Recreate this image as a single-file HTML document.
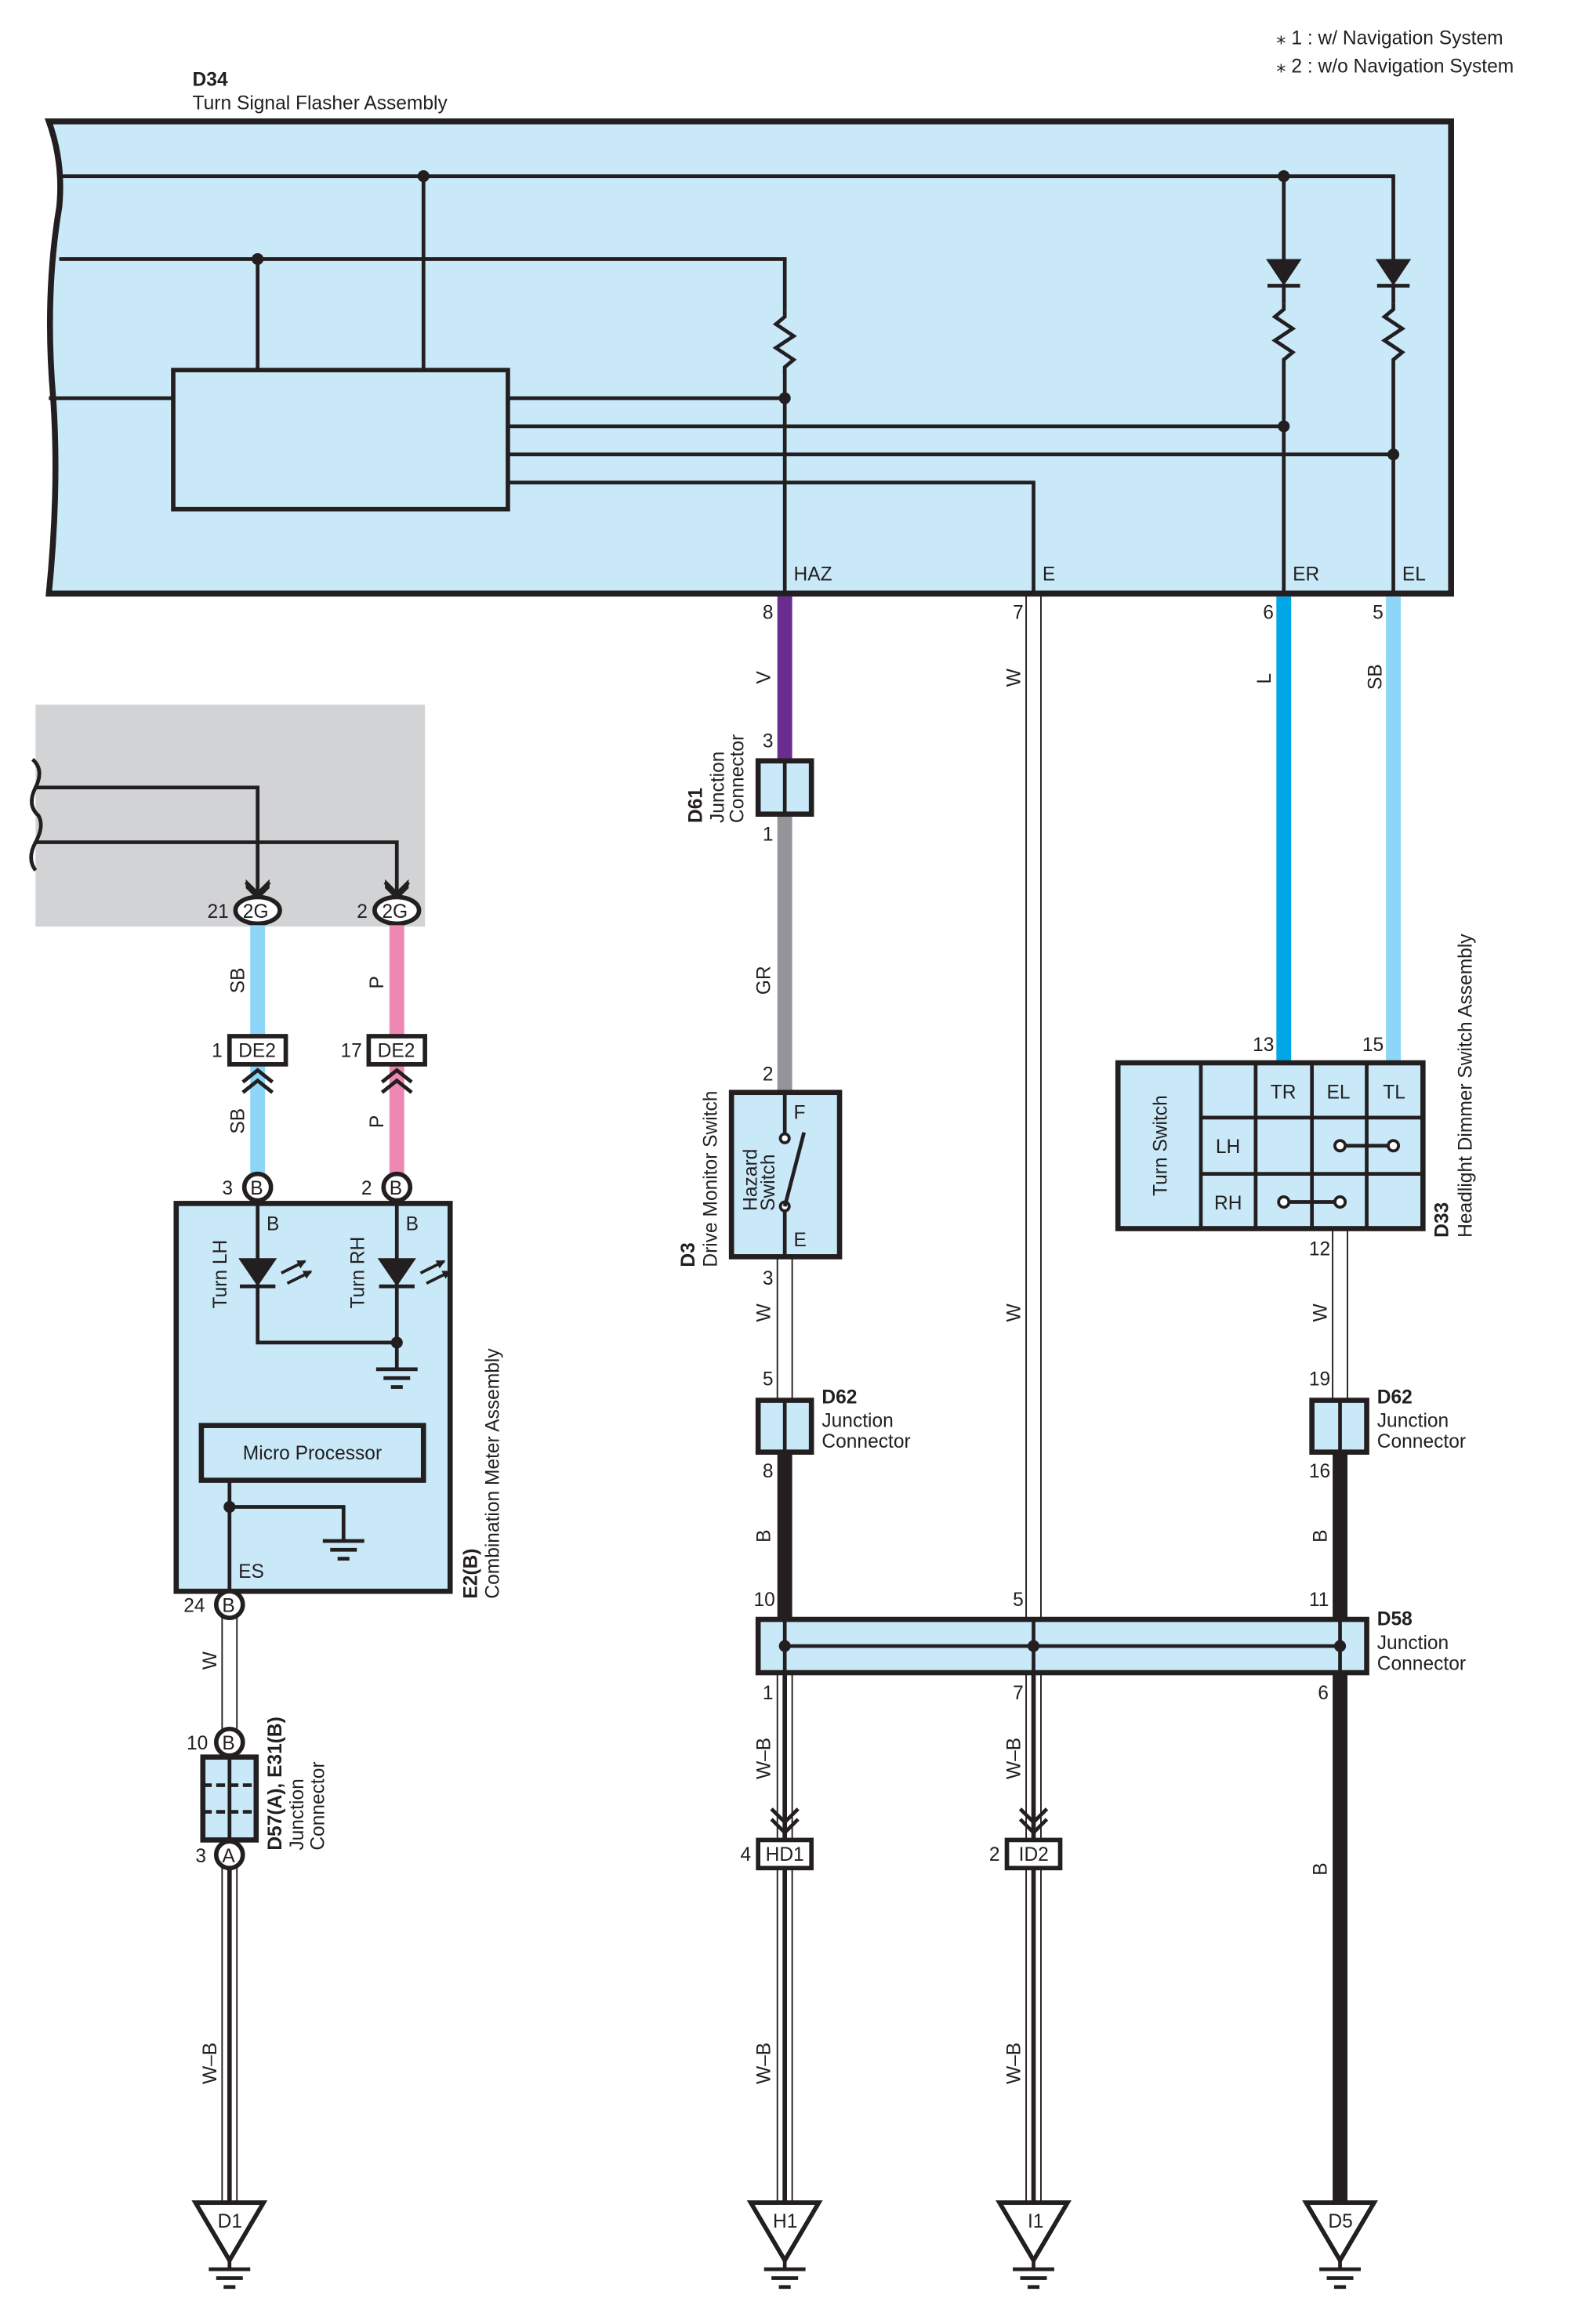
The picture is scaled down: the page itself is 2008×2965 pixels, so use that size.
<!DOCTYPE html>
<html><head><meta charset="utf-8"><style>
html,body{margin:0;padding:0;background:#fff}
svg{display:block}
text{font-family:"Liberation Sans Narrow","Liberation Sans",sans-serif;fill:#231f20}
.s{font-size:13px}.b{font-weight:bold}
</style></head><body>
<svg width="2008" height="2965" viewBox="0 0 1063 1570" preserveAspectRatio="none" xmlns="http://www.w3.org/2000/svg">
<defs>
<g id="gnd"><line x1="-14" y1="0" x2="14" y2="0" stroke="#231f20" stroke-width="2.5"/><line x1="-9" y1="6" x2="9" y2="6" stroke="#231f20" stroke-width="2.5"/><line x1="-4" y1="12" x2="4" y2="12" stroke="#231f20" stroke-width="2.5"/></g>
<g id="res"><polyline points="0,0 0,4 -6,9 6,17 -6,25 6,33 0,38 0,42" fill="none" stroke="#231f20" stroke-width="2.5"/></g>
<marker id="ah" markerWidth="6" markerHeight="6" refX="5" refY="3" orient="auto" markerUnits="userSpaceOnUse"><polygon points="0,0 6,3 0,6" fill="#231f20"/></marker>
</defs>
<text x="862" y="30" class="s">⁎ 1 : w/ Navigation System</text>
<text x="862" y="49" class="s">⁎ 2 : w/o Navigation System</text>
<text x="130" y="58" class="s b">D34</text>
<text x="130" y="74" class="s">Turn Signal Flasher Assembly</text>
<path d="M33,82 L980,82 L980,401 L33,401 Q40,330 36,270 Q30,200 40,140 Q43,110 33,82 Z" fill="#c9e9f9" stroke="#231f20" stroke-width="4"/>
<g stroke="#231f20" stroke-width="2.5" fill="none">
<polyline points="40,119 941,119 941,175"/>
<line x1="867" y1="119" x2="867" y2="175"/>
<line x1="286" y1="119" x2="286" y2="250"/>
<polyline points="40,175 530,175 530,210"/>
<line x1="174" y1="175" x2="174" y2="250"/>
<line x1="33" y1="269" x2="117" y2="269"/>
<line x1="343" y1="269" x2="530" y2="269"/>
<line x1="530" y1="250" x2="530" y2="401"/>
<line x1="343" y1="288" x2="867" y2="288"/>
<line x1="343" y1="307" x2="941" y2="307"/>
<polyline points="343,326 698,326 698,401"/>
<line x1="867" y1="193" x2="867" y2="205"/><line x1="867" y1="247" x2="867" y2="401"/>
<line x1="941" y1="193" x2="941" y2="205"/><line x1="941" y1="247" x2="941" y2="401"/>
</g>
<rect x="117" y="250" width="226" height="94" fill="none" stroke="#231f20" stroke-width="3"/>
<use href="#res" x="530" y="210"/><use href="#res" x="867" y="205"/><use href="#res" x="941" y="205"/>
<polygon points="855,175 879,175 867,193" fill="#231f20"/><line x1="856" y1="193" x2="878" y2="193" stroke="#231f20" stroke-width="2.5"/>
<polygon points="929,175 953,175 941,193" fill="#231f20"/><line x1="930" y1="193" x2="952" y2="193" stroke="#231f20" stroke-width="2.5"/>
<g fill="#231f20"><circle cx="286" cy="119" r="4"/><circle cx="867" cy="119" r="4"/><circle cx="174" cy="175" r="4"/><circle cx="530" cy="269" r="4"/><circle cx="867" cy="288" r="4"/><circle cx="941" cy="307" r="4"/></g>
<text x="536" y="392" class="s">HAZ</text><text x="704" y="392" class="s">E</text><text x="873" y="392" class="s">ER</text><text x="947" y="392" class="s">EL</text>
<text x="515" y="418" class="s">8</text><text x="684" y="418" class="s">7</text><text x="853" y="418" class="s">6</text><text x="927" y="418" class="s">5</text>

<rect x="525" y="403" width="10" height="110" fill="#6a2c8f"/>
<rect x="525" y="551" width="10" height="186" fill="#949599"/>
<rect x="862" y="403" width="10" height="315" fill="#00a6e6"/>
<rect x="936" y="403" width="10" height="315" fill="#8dd6f7"/>
<g stroke="#231f20" stroke-width="1"><line x1="693" y1="401" x2="693" y2="1093"/><line x1="703" y1="401" x2="703" y2="1093"/>
<line x1="525" y1="850" x2="525" y2="945"/><line x1="535" y1="850" x2="535" y2="945"/>
<line x1="900" y1="830" x2="900" y2="945"/><line x1="910" y1="830" x2="910" y2="945"/></g>
<g class="s">
<text transform="translate(520,462) rotate(-90)" class="s">V</text>
<text transform="translate(689,464) rotate(-90)" class="s">W</text>
<text transform="translate(858,462) rotate(-90)" class="s">L</text>
<text transform="translate(933,466) rotate(-90)" class="s">SB</text>
<text transform="translate(520,672) rotate(-90)" class="s">GR</text>
<text transform="translate(520,893) rotate(-90)" class="s">W</text>
<text transform="translate(689,893) rotate(-90)" class="s">W</text>
<text transform="translate(896,893) rotate(-90)" class="s">W</text>
<text transform="translate(520,1042) rotate(-90)" class="s">B</text>
<text transform="translate(896,1042) rotate(-90)" class="s">B</text>
<text transform="translate(520,1202) rotate(-90)" class="s">W–B</text>
<text transform="translate(689,1202) rotate(-90)" class="s">W–B</text>
<text transform="translate(896,1267) rotate(-90)" class="s">B</text>
<text transform="translate(520,1408) rotate(-90)" class="s">W–B</text>
<text transform="translate(689,1408) rotate(-90)" class="s">W–B</text>
<text transform="translate(146,1408) rotate(-90)" class="s">W–B</text>
<text transform="translate(146,1128) rotate(-90)" class="s">W</text>
</g>
<rect x="512" y="514" width="36" height="36" fill="#c9e9f9" stroke="#231f20" stroke-width="3.5"/><line x1="530" y1="514" x2="530" y2="550" stroke="#231f20" stroke-width="2.5"/>
<text x="515" y="505" class="s">3</text><text x="515" y="568" class="s">1</text>
<text transform="translate(474,556) rotate(-90)" class="s b">D61</text>
<text transform="translate(489,556) rotate(-90)" class="s">Junction</text>
<text transform="translate(502,556) rotate(-90)" class="s">Connector</text>
<text x="515" y="730" class="s">2</text>
<rect x="494" y="738" width="73" height="111" fill="#c9e9f9" stroke="#231f20" stroke-width="3.5"/>
<line x1="530" y1="738" x2="530" y2="766" stroke="#231f20" stroke-width="2.5"/>
<line x1="530" y1="818" x2="530" y2="849" stroke="#231f20" stroke-width="2.5"/>
<circle cx="530" cy="769" r="3" fill="#fff" stroke="#231f20" stroke-width="2"/><circle cx="530" cy="815" r="3" fill="#fff" stroke="#231f20" stroke-width="2"/>
<line x1="530" y1="815" x2="543" y2="765" stroke="#231f20" stroke-width="2.5"/>
<text x="536" y="756" class="s">F</text><text x="536" y="842" class="s">E</text>
<text transform="translate(511,818) rotate(-90)" class="s">Hazard</text>
<text transform="translate(523,818) rotate(-90)" class="s">Switch</text>
<text transform="translate(469,856) rotate(-90)" class="s b">D3</text>
<text transform="translate(484,856) rotate(-90)" class="s">Drive Monitor Switch</text>
<text x="515" y="868" class="s">3</text>
<text x="515" y="936" class="s">5</text>
<rect x="512" y="946" width="36" height="35" fill="#c9e9f9" stroke="#231f20" stroke-width="3.5"/><line x1="530" y1="946" x2="530" y2="981" stroke="#231f20" stroke-width="2.5"/>
<text x="555" y="948" class="s b">D62</text><text x="555" y="964" class="s">Junction</text><text x="555" y="978" class="s">Connector</text>
<text x="515" y="998" class="s">8</text>
<rect x="525" y="982" width="10" height="111" fill="#231f20"/>
<text x="846" y="710" class="s">13</text><text x="920" y="710" class="s">15</text>
<rect x="755" y="718" width="206" height="112" fill="#c9e9f9" stroke="#231f20" stroke-width="3.5"/>
<g stroke="#231f20" stroke-width="2.5"><line x1="811" y1="718" x2="811" y2="830"/><line x1="848" y1="718" x2="848" y2="830"/><line x1="886" y1="718" x2="886" y2="830"/><line x1="923" y1="718" x2="923" y2="830"/>
<line x1="811" y1="755" x2="961" y2="755"/><line x1="811" y1="793" x2="961" y2="793"/>
<line x1="905" y1="774" x2="941" y2="774"/><line x1="867" y1="812" x2="905" y2="812"/></g>
<g fill="#fff" stroke="#231f20" stroke-width="2"><circle cx="905" cy="774" r="3.5"/><circle cx="941" cy="774" r="3.5"/><circle cx="867" cy="812" r="3.5"/><circle cx="905" cy="812" r="3.5"/></g>
<text x="858" y="742" class="s">TR</text><text x="896" y="742" class="s">EL</text><text x="934" y="742" class="s">TL</text>
<text x="821" y="779" class="s">LH</text><text x="820" y="817" class="s">RH</text>
<text transform="translate(788,808) rotate(-90)" class="s">Turn Switch</text>
<text transform="translate(978,836) rotate(-90)" class="s b">D33</text>
<text transform="translate(994,836) rotate(-90)" class="s">Headlight Dimmer Switch Assembly</text>
<text x="884" y="848" class="s">12</text>
<text x="884" y="936" class="s">19</text>
<rect x="886" y="946" width="37" height="35" fill="#c9e9f9" stroke="#231f20" stroke-width="3.5"/><line x1="905" y1="946" x2="905" y2="981" stroke="#231f20" stroke-width="2.5"/>
<text x="930" y="948" class="s b">D62</text><text x="930" y="964" class="s">Junction</text><text x="930" y="978" class="s">Connector</text>
<text x="884" y="998" class="s">16</text>
<rect x="900" y="982" width="10" height="111" fill="#231f20"/>
<text x="509" y="1085" class="s">10</text><text x="684" y="1085" class="s">5</text><text x="884" y="1085" class="s">11</text>
<rect x="512" y="1094" width="411" height="36" fill="#c9e9f9" stroke="#231f20" stroke-width="3.5"/>
<g stroke="#231f20" stroke-width="2.5"><line x1="530" y1="1112" x2="905" y2="1112"/><line x1="530" y1="1094" x2="530" y2="1130"/><line x1="698" y1="1094" x2="698" y2="1130"/><line x1="905" y1="1094" x2="905" y2="1130"/></g>
<g fill="#231f20"><circle cx="530" cy="1112" r="4"/><circle cx="698" cy="1112" r="4"/><circle cx="905" cy="1112" r="4"/></g>
<text x="930" y="1098" class="s b">D58</text><text x="930" y="1114" class="s">Junction</text><text x="930" y="1128" class="s">Connector</text>
<text x="515" y="1148" class="s">1</text><text x="684" y="1148" class="s">7</text><text x="890" y="1148" class="s">6</text>
<rect x="900" y="1131" width="10" height="360" fill="#231f20"/>
<g stroke="#231f20">
<line x1="525" y1="1131" x2="525" y2="1490" stroke-width="1"/><line x1="535" y1="1131" x2="535" y2="1490" stroke-width="1"/><line x1="530" y1="1131" x2="530" y2="1490" stroke-width="3"/>
<line x1="693" y1="1131" x2="693" y2="1490" stroke-width="1"/><line x1="703" y1="1131" x2="703" y2="1490" stroke-width="1"/><line x1="698" y1="1131" x2="698" y2="1490" stroke-width="3"/>
<line x1="150" y1="1262" x2="150" y2="1490" stroke-width="1"/><line x1="160" y1="1262" x2="160" y2="1490" stroke-width="1"/><line x1="155" y1="1262" x2="155" y2="1490" stroke-width="3"/>
<line x1="150" y1="1093" x2="150" y2="1168" stroke-width="1"/><line x1="160" y1="1093" x2="160" y2="1168" stroke-width="1"/>
</g>
<g fill="none" stroke="#231f20" stroke-width="2.5"><polyline points="521,1222 530,1231 539,1222"/><polyline points="521,1229 530,1238 539,1229"/><polyline points="689,1222 698,1231 707,1222"/><polyline points="689,1229 698,1238 707,1229"/></g>
<rect x="512" y="1243" width="36" height="19" fill="#fff" stroke="#231f20" stroke-width="3"/><text x="517" y="1257" class="s">HD1</text>
<rect x="680" y="1243" width="36" height="19" fill="#fff" stroke="#231f20" stroke-width="3"/><text x="688" y="1257" class="s">ID2</text>
<text x="500" y="1257" class="s">4</text><text x="668" y="1257" class="s">2</text>
<g fill="#fff" stroke="#231f20" stroke-width="3">
<polygon points="132,1488 178,1488 155,1527"/><polygon points="507,1488 553,1488 530,1527"/><polygon points="675,1488 721,1488 698,1527"/><polygon points="882,1488 928,1488 905,1527"/></g>
<g stroke="#231f20" stroke-width="2.5"><line x1="155" y1="1527" x2="155" y2="1532"/><line x1="530" y1="1527" x2="530" y2="1532"/><line x1="698" y1="1527" x2="698" y2="1532"/><line x1="905" y1="1527" x2="905" y2="1532"/></g>
<use href="#gnd" x="155" y="1533"/><use href="#gnd" x="530" y="1533"/><use href="#gnd" x="698" y="1533"/><use href="#gnd" x="905" y="1533"/>
<text x="147" y="1505" class="s">D1</text><text x="522" y="1505" class="s">H1</text><text x="694" y="1505" class="s">I1</text><text x="897" y="1505" class="s">D5</text>

<rect x="24" y="476" width="263" height="150" fill="#d1d3d4"/>
<g fill="none" stroke="#231f20" stroke-width="2.5">
<polyline points="24,532 174,532 174,604"/><polyline points="24,569 268,569 268,604"/>
<path d="M22,513 Q30,520 24,532 Q18,544 26,551 Q30,558 24,569 Q18,580 24,588"/>
<polyline points="166,596 174,604 182,596"/><polyline points="260,596 268,604 276,596"/>
</g>
<polygon points="166,594 174,602 182,594 182,600 174,608 166,600" fill="#231f20"/>
<polygon points="260,594 268,602 276,594 276,600 268,608 260,600" fill="#231f20"/>
<ellipse cx="174" cy="615" rx="15" ry="9" fill="#fff" stroke="#231f20" stroke-width="3"/><text x="164" y="620" class="s">2G</text>
<ellipse cx="268" cy="615" rx="15" ry="9" fill="#fff" stroke="#231f20" stroke-width="3"/><text x="258" y="620" class="s">2G</text>
<text x="140" y="620" class="s">21</text><text x="241" y="620" class="s">2</text>
<rect x="169" y="625" width="10" height="168" fill="#8dd6f7"/>
<rect x="263" y="625" width="10" height="168" fill="#ef87b4"/>
<rect x="155" y="700" width="38" height="19" fill="#fff" stroke="#231f20" stroke-width="3"/><text x="161" y="714" class="s">DE2</text>
<rect x="249" y="700" width="38" height="19" fill="#fff" stroke="#231f20" stroke-width="3"/><text x="255" y="714" class="s">DE2</text>
<text x="143" y="714" class="s">1</text><text x="230" y="714" class="s">17</text>
<g fill="none" stroke="#231f20" stroke-width="2.5"><polyline points="164,731 174,723 184,731"/><polyline points="164,738 174,730 184,738"/><polyline points="258,731 268,723 278,731"/><polyline points="258,738 268,730 278,738"/></g>
<text transform="translate(165,671) rotate(-90)" class="s">SB</text><text transform="translate(259,668) rotate(-90)" class="s">P</text>
<text transform="translate(165,766) rotate(-90)" class="s">SB</text><text transform="translate(259,762) rotate(-90)" class="s">P</text>
<rect x="119" y="813" width="185" height="262" fill="#c9e9f9" stroke="#231f20" stroke-width="3.5"/>
<circle cx="174" cy="802" r="9" fill="#fff" stroke="#231f20" stroke-width="3"/><text x="169" y="807" class="s">B</text>
<circle cx="268" cy="802" r="9" fill="#fff" stroke="#231f20" stroke-width="3"/><text x="263" y="807" class="s">B</text>
<text x="150" y="807" class="s">3</text><text x="244" y="807" class="s">2</text>
<text x="180" y="831" class="s">B</text><text x="274" y="831" class="s">B</text>
<g stroke="#231f20" stroke-width="2.5" fill="none">
<polyline points="174,811 174,907 268,907"/><line x1="268" y1="811" x2="268" y2="925"/>
<line x1="162" y1="869" x2="186" y2="869"/><line x1="256" y1="869" x2="280" y2="869"/>
</g>
<g stroke="#231f20" stroke-width="2" fill="none">
<line x1="190" y1="860" x2="206" y2="852" marker-end="url(#ah)"/><line x1="194" y1="867" x2="210" y2="859" marker-end="url(#ah)"/>
<line x1="284" y1="860" x2="300" y2="852" marker-end="url(#ah)"/><line x1="288" y1="867" x2="304" y2="859" marker-end="url(#ah)"/>
</g>
<polygon points="161,850 187,850 174,869" fill="#231f20"/><polygon points="255,850 281,850 268,869" fill="#231f20"/>
<circle cx="268" cy="907" r="4" fill="#231f20"/>
<use href="#gnd" x="268" y="925"/>
<text transform="translate(153,884) rotate(-90)" class="s">Turn LH</text>
<text transform="translate(246,884) rotate(-90)" class="s">Turn RH</text>
<rect x="136" y="963" width="150" height="37" fill="#c9e9f9" stroke="#231f20" stroke-width="3.5"/>
<text x="164" y="986" class="s" style="font-family:'Liberation Sans',sans-serif;font-size:13px">Micro Processor</text>
<g stroke="#231f20" stroke-width="2.5" fill="none"><line x1="155" y1="1000" x2="155" y2="1075"/><polyline points="155,1018 232,1018 232,1040"/></g>
<circle cx="155" cy="1018" r="4" fill="#231f20"/><use href="#gnd" x="232" y="1041"/>
<text x="161" y="1066" class="s">ES</text>
<circle cx="155" cy="1084" r="9" fill="#fff" stroke="#231f20" stroke-width="3"/><text x="150" y="1089" class="s">B</text>
<text x="124" y="1089" class="s">24</text>
<text transform="translate(322,1080) rotate(-90)" class="s b">E2(B)</text>
<text transform="translate(337,1080) rotate(-90)" class="s">Combination Meter Assembly</text>
<circle cx="155" cy="1177" r="9" fill="#fff" stroke="#231f20" stroke-width="3"/><text x="150" y="1182" class="s">B</text>
<text x="126" y="1182" class="s">10</text>
<rect x="137" y="1187" width="36" height="56" fill="#c9e9f9" stroke="#231f20" stroke-width="3.5"/>
<g stroke="#231f20" stroke-width="2.5"><line x1="155" y1="1187" x2="155" y2="1243"/><line x1="137" y1="1206" x2="173" y2="1206" stroke-dasharray="6,3"/><line x1="137" y1="1224" x2="173" y2="1224" stroke-dasharray="6,3"/></g>
<circle cx="155" cy="1253" r="9" fill="#fff" stroke="#231f20" stroke-width="3"/><text x="150" y="1258" class="s">A</text>
<text x="132" y="1258" class="s">3</text>
<text transform="translate(190,1250) rotate(-90)" class="s b">D57(A), E31(B)</text>
<text transform="translate(205,1250) rotate(-90)" class="s">Junction</text>
<text transform="translate(219,1250) rotate(-90)" class="s">Connector</text>
</svg>
</body></html>
